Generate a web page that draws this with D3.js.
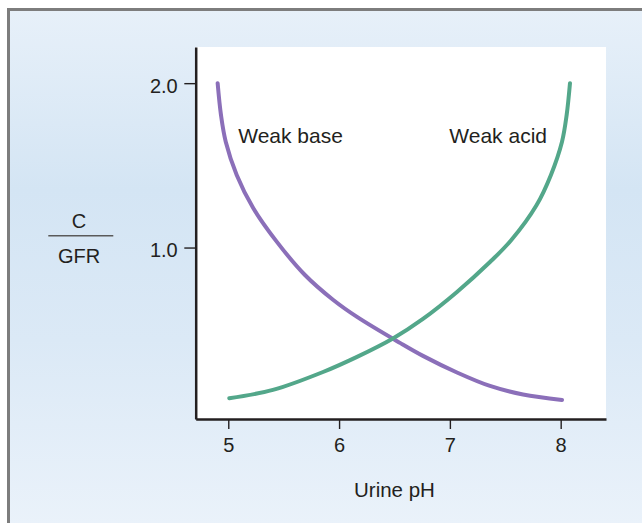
<!DOCTYPE html>
<html>
<head>
<meta charset="utf-8">
<script src="https://cdn.jsdelivr.net/npm/d3@7"></script>
<style>
  body { margin: 0; background: #fff; }
  svg { display: block; font-family: "Liberation Sans", Arial, sans-serif; }
  .axis path, .axis line { stroke: #231f20; }
  .axis text { fill: #231f20; font-size: 20px; font-family: "Liberation Sans", Arial, sans-serif; }
</style>
</head>
<body>
<svg id="chart" width="642" height="523"></svg>
<script>
// clearance / GFR against urine pH
var baseX = [4.904, 4.934, 4.977, 5.076, 5.226, 5.437, 5.692, 5.948, 6.162, 6.55, 6.757, 7.064, 7.362, 7.66, 8.012];
var baseY = [2.0, 1.807, 1.644, 1.442, 1.239, 1.036, 0.833, 0.681, 0.578, 0.42, 0.341, 0.24, 0.158, 0.106, 0.073];

var acidX = [5.009, 5.403, 5.855, 6.162, 6.486, 6.757, 7.064, 7.362, 7.551, 7.783, 7.912, 8.012, 8.054, 8.084];
var acidY = [0.083, 0.134, 0.243, 0.335, 0.447, 0.566, 0.73, 0.912, 1.043, 1.259, 1.442, 1.644, 1.807, 2.0];

var xTicks = [5, 6, 7, 8];
var yTicks = [1, 2];
var yTickLabels = ['1.0', '2.0'];

var svg = d3.select('#chart');

// panel background
var defs = svg.append('defs');
var grad = defs.append('linearGradient').attr('id', 'bg').attr('x1', 0).attr('y1', 0).attr('x2', 0).attr('y2', 1);
grad.append('stop').attr('offset', '0%').attr('stop-color', '#e7f0f9');
grad.append('stop').attr('offset', '30%').attr('stop-color', '#d4e5f4');
grad.append('stop').attr('offset', '55%').attr('stop-color', '#dbe9f6');
grad.append('stop').attr('offset', '100%').attr('stop-color', '#f1f6fc');

svg.append('rect')
  .attr('x', 8.5).attr('y', 9.5).attr('width', 700).attr('height', 600)
  .attr('fill', 'url(#bg)')
  .attr('stroke', '#7d7d7d').attr('stroke-width', 3);

var x = d3.scaleLinear().domain([4.706, 8.409]).range([195.7, 606]);
var y = d3.scaleLinear().domain([-0.043, 2.22]).range([419, 47]);

// plot area
svg.append('rect')
  .attr('x', x.range()[0]).attr('y', y.range()[1])
  .attr('width', x.range()[1] - x.range()[0])
  .attr('height', y.range()[0] - y.range()[1])
  .attr('fill', '#fff');

var line = d3.line()
  .x(function (d) { return x(d[0]); })
  .y(function (d) { return y(d[1]); })
  .curve(d3.curveCatmullRom.alpha(0.5));

svg.append('path')
  .datum(d3.zip(baseX, baseY))
  .attr('d', line)
  .attr('fill', 'none')
  .attr('stroke', '#8b6fb9')
  .attr('stroke-width', 4)
  .attr('stroke-linecap', 'round');

svg.append('path')
  .datum(d3.zip(acidX, acidY))
  .attr('d', line)
  .attr('fill', 'none')
  .attr('stroke', '#53a78a')
  .attr('stroke-width', 4)
  .attr('stroke-linecap', 'round');

// axes
var xAxis = d3.axisBottom(x).tickValues(xTicks).tickSize(10).tickSizeOuter(0).tickPadding(8.4)
  .tickFormat(d3.format('d'));
var yAxis = d3.axisLeft(y).tickValues(yTicks).tickSize(11.4).tickSizeOuter(0).tickPadding(6.6)
  .tickFormat(function (d, i) { return yTickLabels[i]; });

var gx = svg.append('g').attr('class', 'axis').attr('transform', 'translate(0,' + y.range()[0] + ')').call(xAxis);
var gy = svg.append('g').attr('class', 'axis').attr('transform', 'translate(' + x.range()[0] + ',0)').call(yAxis);

gx.select('.domain').attr('stroke-width', 2.5);
gy.select('.domain').attr('stroke-width', 2.5);
gx.selectAll('.tick line').attr('stroke-width', 1.4).attr('stroke', '#333');
gy.selectAll('.tick line').attr('stroke-width', 1.4).attr('stroke', '#333');
gy.selectAll('.tick text').attr('dy', '0.45em');

// curve labels
svg.append('text')
  .attr('x', x(5.09)).attr('y', y(1.638))
  .attr('font-size', 21).attr('fill', '#231f20')
  .text('Weak base');

svg.append('text')
  .attr('x', x(6.995)).attr('y', y(1.638))
  .attr('font-size', 21).attr('fill', '#231f20')
  .text('Weak acid');

// axis titles
svg.append('text')
  .attr('x', x(6.5)).attr('y', 496.5)
  .attr('text-anchor', 'middle')
  .attr('font-size', 20.5).attr('fill', '#231f20')
  .text('Urine pH');

svg.append('text')
  .attr('x', 79).attr('y', 228.3)
  .attr('text-anchor', 'middle')
  .attr('font-size', 20).attr('fill', '#231f20')
  .text('C');

svg.append('line')
  .attr('x1', 48.3).attr('x2', 113.3)
  .attr('y1', 235.7).attr('y2', 235.7)
  .attr('stroke', '#5a5a5a').attr('stroke-width', 1.6);

svg.append('text')
  .attr('x', 79).attr('y', 263.3)
  .attr('text-anchor', 'middle')
  .attr('font-size', 20).attr('fill', '#231f20')
  .text('GFR');
</script>
</body>
</html>
